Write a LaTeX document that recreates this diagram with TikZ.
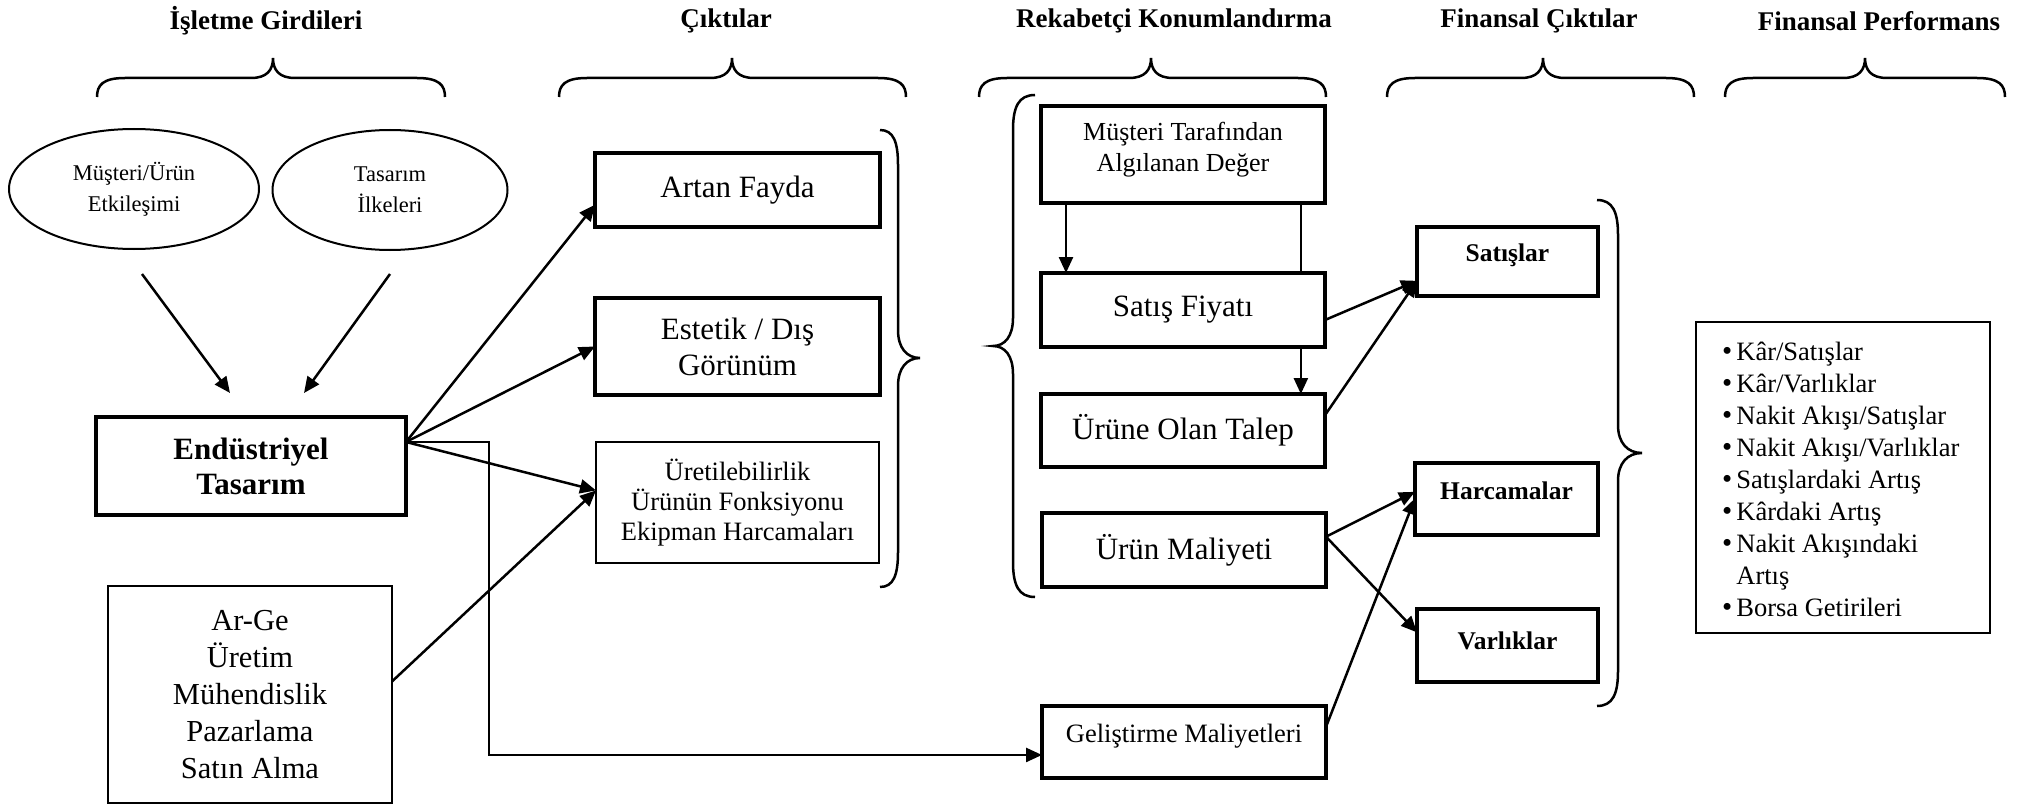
\documentclass[tikz,border=0pt]{standalone}
\usepackage{fontspec}
\setmainfont{Liberation Serif}
\usetikzlibrary{arrows.meta,calc,shapes.geometric}
\newcommand{\topbrace}[3]{\draw[bracestyle] (#1,97) .. controls (#1,85) and ({#1+6},78) .. ({#1+28},78) -- ({#2-22},78) .. controls ({#2-6},78) and (#2,70) .. (#2,58) .. controls (#2,70) and ({#2+6},78) .. ({#2+22},78) -- ({#3-28},78) .. controls ({#3-6},78) and (#3,85) .. (#3,97);}
\newcommand{\sidebrace}[6]{\draw[bracestyle] (#1,#4) .. controls ({#1+0.75*(#2-#1)},#4) and (#2,{#4+12}) .. (#2,{#4+35}) -- (#2,{#5-28}) .. controls (#2,{#5-10}) and ({#2+0.4*(#3-#2)},#5) .. (#3,#5) .. controls ({#2+0.4*(#3-#2)},#5) and (#2,{#5+10}) .. (#2,{#5+28}) -- (#2,{#6-35}) .. controls (#2,{#6-12}) and ({#1+0.75*(#2-#1)},#6) .. (#1,#6);}
\newcommand{\bul}{{\fontsize{29}{32}\selectfont •}}
\tikzset{
 thickbox/.style={draw, line width=4.5pt, inner sep=0pt, outer sep=0pt, align=center},
 thinbox/.style={draw, line width=2pt, inner sep=0pt, outer sep=0pt, align=center},
 ell/.style={draw, ellipse, line width=2pt, inner sep=0pt, align=center, font=\fontsize{22.5}{31}\selectfont},
 txt/.style={inner sep=0pt, align=center},
 arr/.style={line width=2.5pt, -{Triangle[length=16pt,width=14pt]}},
 ln/.style={line width=2pt},
 bracestyle/.style={line width=2.5pt},
 head/.style={inner sep=0pt, font=\fontsize{27}{30}\selectfont\bfseries},
 big/.style={font=\fontsize{31}{36}\selectfont},
 smallbold/.style={font=\fontsize{25.5}{30}\selectfont\bfseries}
}
\begin{document}
\begin{tikzpicture}[x=1pt,y=-1pt]
\useasboundingbox[fill=white] (0,0) rectangle (2021,805);
% headings
\node[head] (h1) at (266,21) {İşletme Girdileri};
\node[head] (h2) at (726,21) {Çıktılar};
\node[head] (h3) at (1174,21) {Rekabetçi Konumlandırma};
\node[head] (h4) at (1539,21) {Finansal Çıktılar};
\node[head] (h5) at (1879,21) {Finansal Performans};
% top braces
\topbrace{97}{273}{445}
\topbrace{559}{732}{906}
\topbrace{979}{1151}{1326}
\topbrace{1387}{1543}{1694}
\topbrace{1725}{1865}{2005}
% ellipses
\node[ell, minimum width=250pt, minimum height=120pt] (e1) at (134,189) {Müşteri/Ürün\\Etkileşimi};
\node[ell, minimum width=235pt, minimum height=120pt] (e2) at (390,190) {Tasarım\\İlkeleri};
% left column
\node[thickbox, minimum width=310pt, minimum height=98pt, font=\fontsize{31}{35}\selectfont\bfseries] (endbox) at (251,466) {Endüstriyel\\Tasarım};
\node[thinbox, minimum width=284pt, minimum height=217pt, font=\fontsize{30.5}{37}\selectfont] (arge) at (250,694.5) {Ar-Ge\\Üretim\\Mühendislik\\Pazarlama\\Satın Alma};
% outputs
\node[thickbox, big, minimum width=285pt, minimum height=74pt] (artan) at (737.5,190) {Artan Fayda};
\node[thickbox, big, minimum width=285pt, minimum height=97pt] (estetik) at (737.5,346.5) {Estetik / Dış\\Görünüm};
\node[thinbox, minimum width=283pt, minimum height=121pt, font=\fontsize{26.5}{30}\selectfont] (uret) at (737.5,502.5) {Üretilebilirlik\\Ürünün Fonksiyonu\\Ekipman Harcamaları};
% competitive positioning
\node[thickbox, minimum width=284pt, minimum height=97pt] (mtd) at (1183,154.5) {};
\node[txt, font=\fontsize{26}{31}\selectfont] (mtdT) at ([yshift=5pt]mtd.center) {Müşteri Tarafından\\Algılanan Değer};
\node[thickbox, big, minimum width=284pt, minimum height=74pt] (satis) at (1183,310) {Satış Fiyatı};
\node[thickbox, big, minimum width=284pt, minimum height=73pt] (talep) at (1183,430.5) {Ürüne Olan Talep};
\node[thickbox, big, minimum width=284pt, minimum height=74pt] (maliyet) at (1184,550) {Ürün Maliyeti};
\node[thickbox, minimum width=284pt, minimum height=72pt] (gel) at (1184,742) {};
\node[txt, font=\fontsize{26.5}{30}\selectfont] (gelT) at ([yshift=6pt]gel.center) {Geliştirme Maliyetleri};
% financial outputs
\node[thickbox, minimum width=181pt, minimum height=69pt] (satislar) at (1507.5,261.5) {};
\node[txt, smallbold] (satislarT) at ([yshift=6pt]satislar.center) {Satışlar};
\node[thickbox, minimum width=183pt, minimum height=72pt] (harc) at (1506.5,499) {};
\node[txt, smallbold] (harcT) at ([yshift=8pt]harc.center) {Harcamalar};
\node[thickbox, minimum width=181pt, minimum height=73pt] (varl) at (1507.5,645.5) {};
\node[txt, smallbold] (varlT) at ([yshift=5pt]varl.center) {Varlıklar};
% financial performance
\node[thinbox, minimum width=294pt, minimum height=311pt] (perf) at (1843,477.5) {};
\node[inner sep=0pt, anchor=north west, font=\fontsize{26.5}{32}\selectfont] (perfT) at (1722,337.6) {%
\begin{tabular}{@{}c@{\hspace{4pt}}l@{}}
\bul&Kâr/Satışlar\\
\bul&Kâr/Varlıklar\\
\bul&Nakit Akışı/Satışlar\\
\bul&Nakit Akışı/Varlıklar\\
\bul&Satışlardaki Artış\\
\bul&Kârdaki Artış\\
\bul&Nakit Akışındaki\\
&Artış\\
\bul&Borsa Getirileri
\end{tabular}};
% side braces
\sidebrace{880}{898}{920}{130}{358}{587}
\sidebrace{1035}{1013}{993}{95}{346}{597}
\sidebrace{1597}{1618}{1642}{200}{453}{706}
% connector endpoints
\coordinate (a1s) at (142,274);
\coordinate (a1e) at (230,393);
\coordinate (a2s) at (390,274);
\coordinate (a2e) at (304,393);
\coordinate (endout) at ($(endbox.north east)!0.255!(endbox.south east)$);
% connectors
\draw[arr] (a1s) -- (a1e);
\draw[arr] (a2s) -- (a2e);
\draw[arr] (endout) -- ($(artan.north west)!0.7!(artan.south west)$);
\draw[arr] (endout) -- (estetik.west);
\draw[arr] (endout) -- ($(uret.north west)!0.4!(uret.south west)$);
\draw[arr] ($(arge.north east)!0.44!(arge.south east)$) -- ($(uret.north west)!0.4!(uret.south west)$);
\draw[arr] (endout) -- ++(83,0) |- ($(gel.north west)!0.68!(gel.south west)$);
\draw[arr] ($(mtd.south west)!0.088!(mtd.south east)$) -- ($(satis.north west)!0.088!(satis.north east)$);
\draw[ln] ($(mtd.south west)!0.915!(mtd.south east)$) -- ($(satis.north west)!0.915!(satis.north east)$);
\draw[arr] ($(satis.south west)!0.915!(satis.south east)$) -- ($(talep.north west)!0.915!(talep.north east)$);
\draw[arr] ($(satis.north east)!0.635!(satis.south east)$) -- ($(satislar.north west)!0.78!(satislar.south west)$);
\draw[arr] ($(talep.north east)!0.29!(talep.south east)$) -- ($(satislar.north west)!0.78!(satislar.south west)$);
\draw[arr] ($(maliyet.north east)!0.32!(maliyet.south east)$) -- ($(harc.north west)!0.4!(harc.south west)$);
\draw[arr] ($(maliyet.north east)!0.32!(maliyet.south east)$) -- ($(varl.north west)!0.32!(varl.south west)$);
\draw[arr] ($(gel.north east)!0.29!(gel.south east)$) -- ($(harc.north west)!0.49!(harc.south west)$);
\end{tikzpicture}
\end{document}
